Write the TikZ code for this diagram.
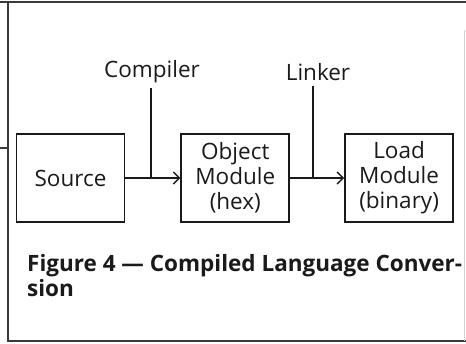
\documentclass[tikz,border=0pt]{standalone}
\usepackage{fontspec}
\setmainfont{Open Sans}
\usetikzlibrary{arrows.meta,positioning}
\definecolor{ink}{HTML}{1A1A1A}
\definecolor{rule}{HTML}{3A3A3A}
\tikzset{
  stage/.style={rectangle,draw=ink,line width=1.8pt,align=center,minimum width=108pt,minimum height=88pt,inner sep=1pt,font=\fontsize{22.5}{25}\selectfont,text=ink},
  tool/.style={font=\fontsize{22.5}{26}\selectfont,text=ink,inner sep=1pt},
  flow/.style={-{Straight Barb[length=6pt,width=12pt,line width=1.5pt]},line width=1.5pt,ink},
  feed/.style={line width=1.5pt,ink},
  frame/.style={line width=1.4pt,rule}
}
\begin{document}
\begin{tikzpicture}[x=1pt,y=-1pt,node distance=55pt]
    \useasboundingbox (0,0) rectangle (466,344);
    % page frame
    \draw[frame] (0,2) -- (466,2);
    \draw[frame] (8,2) -- (8,341) -- (466,341);
    \draw[frame] (0,148) -- (8,148);
    \draw[line width=0.8pt,gray!35] (464,30) -- (464,341);
    % conversion stages
    \node[stage] (source) at (70.5,178) {Source};
    \node[stage,right=of source] (object) {Object\\Module\\(hex)};
    \node[stage,right=54pt of object] (load) {Load\\Module\\(binary)};
    % tools feeding the arrows
    \node[tool] (compiler) at (152,72) {Compiler};
    \node[tool] (linker) at (318,72) {Linker};
    \coordinate (cjoin) at (151,0 |- source.east);
    \coordinate (ljoin) at (313,0 |- object.east);
    \draw[flow] (source) -- (object);
    \draw[flow] (object) -- (load);
    \draw[feed] ([yshift=-4pt]compiler.south -| cjoin) -- (cjoin);
    \draw[feed] ([yshift=-4pt]linker.south -| ljoin) -- (ljoin);
    % caption
    \node[anchor=north west,align=left,inner sep=0pt,font=\bfseries\fontsize{22.5}{25}\selectfont,text=ink] (caption) at (27,254)
      {Figure 4 — Compiled Language Conver-\\sion};
\end{tikzpicture}
\end{document}
